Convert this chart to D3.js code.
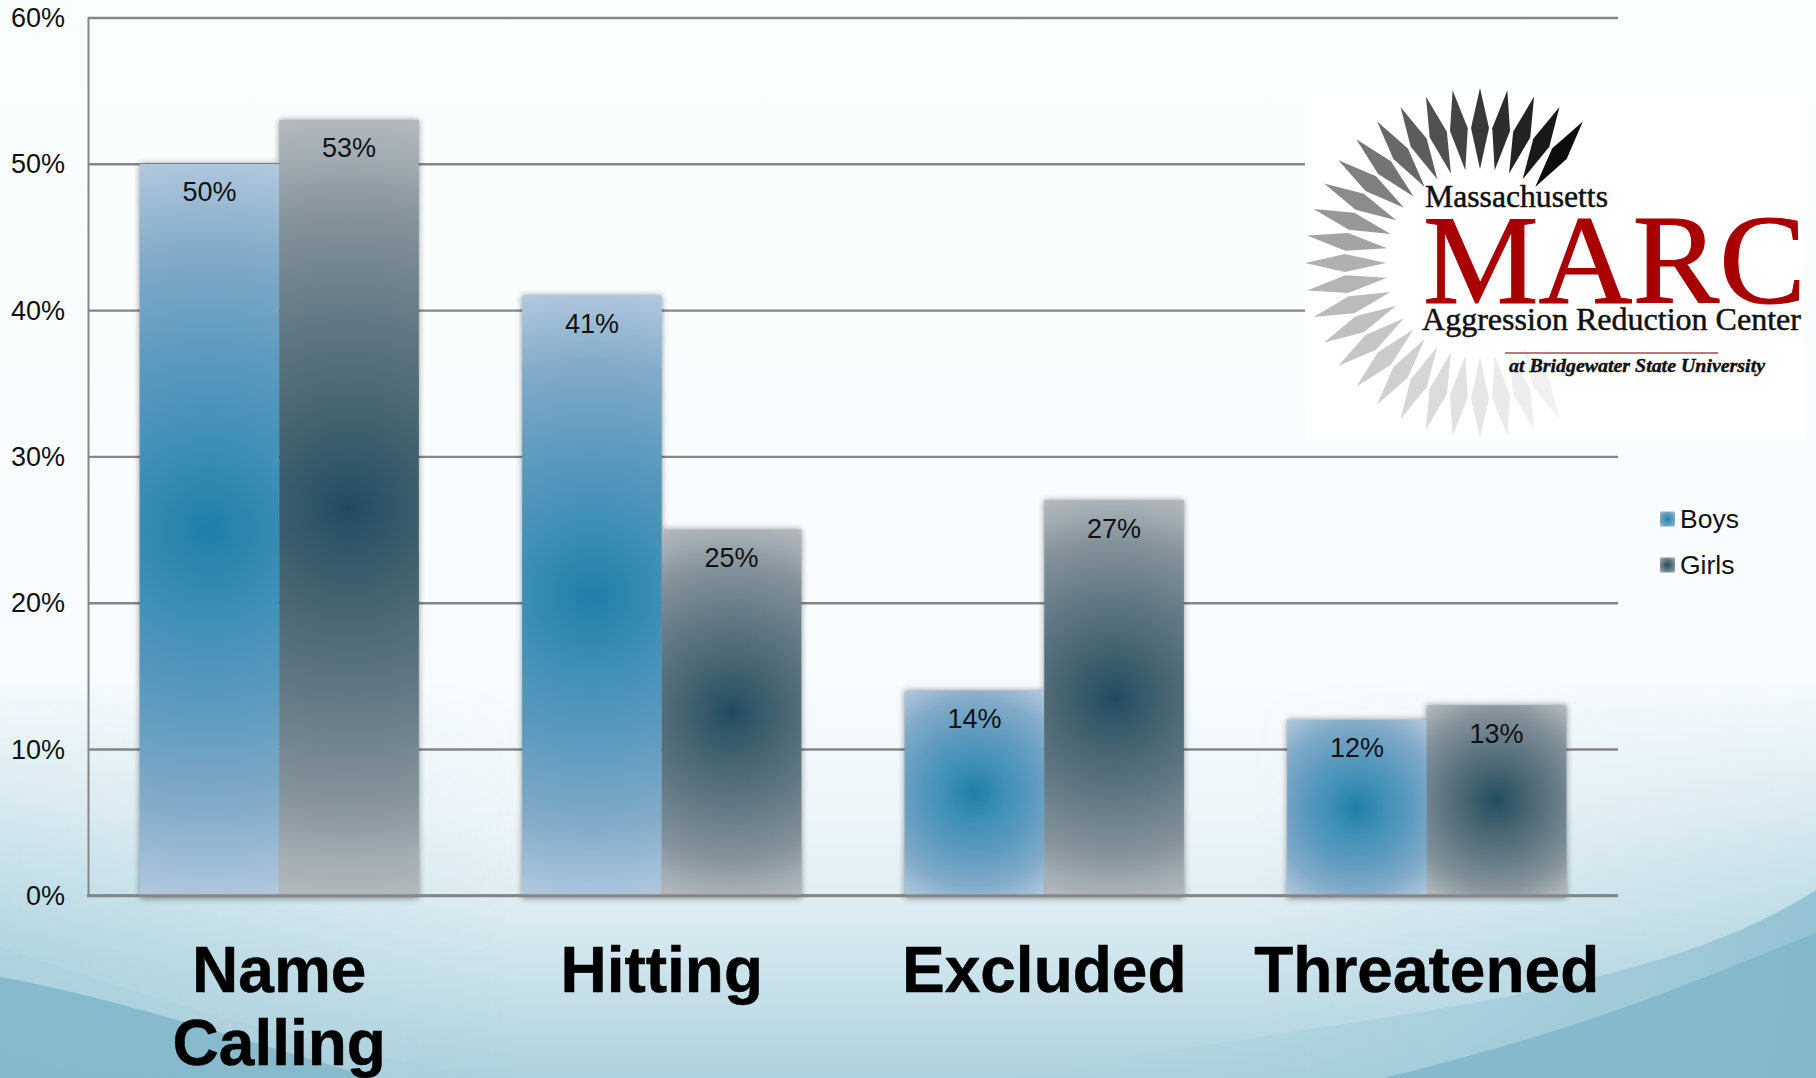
<!DOCTYPE html>
<html><head><meta charset="utf-8">
<script src="https://cdn.jsdelivr.net/npm/d3@7/dist/d3.min.js"></script>
<style>html,body{margin:0;padding:0;background:#fbfeff}svg{display:block}text{font-family:"Liberation Sans",Arial,sans-serif}</style>
</head><body><svg id="c" width="1816" height="1078"></svg>
<script>
const categories = ["Name Calling","Hitting","Excluded","Threatened"];
const seriesNames = ["Boys","Girls"];
const boys = [50,41,14,12];
const girls = [53,25,27,13];
const yTicks = [0,10,20,30,40,50,60];

const W=1816,H=1078,L=88,R=1618,T=17.5,B=895.3;
const svg=d3.select("#c"), defs=svg.append("defs");
const x=d3.scaleBand().domain(categories).range([L,R]).paddingInner(.27).paddingOuter(.135);
const xs=d3.scaleBand().domain(seriesNames).range([0,x.bandwidth()]);
const y=d3.scaleLinear().domain([0,60]).range([B,T]);

const stops={
 Boys:[[0,"#1f7fab"],[.08,"#2a84ad"],[.25,"#4090b7"],[.5,"#5f9bbf"],[.75,"#82abc9"],[.9,"#9fbdd6"],[1,"#b2c8de"]],
 Girls:[[0,"#1f4a5c"],[.06,"#2a5265"],[.25,"#46646f"],[.5,"#647a86"],[.75,"#85939b"],[.9,"#a3adb4"],[1,"#b5babc"]]
};
function grad(id,cx,cy,r,s){
 const g=defs.append("radialGradient").attr("id",id).attr("gradientUnits","userSpaceOnUse")
  .attr("cx",cx).attr("cy",cy).attr("r",r).attr("fx",cx).attr("fy",cy);
 stops[s].forEach(d=>g.append("stop").attr("offset",d[0]).attr("stop-color",d[1]));
 return `url(#${id})`;
}
function linear(id,x1,y1,x2,y2,list){
 const g=defs.append("linearGradient").attr("id",id).attr("gradientUnits","userSpaceOnUse")
  .attr("x1",x1).attr("y1",y1).attr("x2",x2).attr("y2",y2);
 list.forEach(d=>g.append("stop").attr("offset",d[0]).attr("stop-color",d[1]).attr("stop-opacity",d[2]===undefined?1:d[2]));
 return `url(#${id})`;
}
// background
svg.append("rect").attr("width",W).attr("height",H).attr("fill",linear("bg",0,0,0,H,
 [[0,"#fbfeff"],[.62,"#f8fcfe"],[.75,"#eef6fa"],[.84,"#deedf3"],[.92,"#c6e0e9"],[1,"#aed2de"]]));
const mk=defs.append("mask").attr("id","lowMask").attr("maskUnits","userSpaceOnUse").attr("x",0).attr("y",0).attr("width",W).attr("height",H);
mk.append("rect").attr("width",W).attr("height",H).attr("fill",linear("mg",0,680,0,960,[[0,"#000"],[1,"#fff"]]));
const sides=svg.append("g").attr("mask","url(#lowMask)");
sides.append("rect").attr("width",W).attr("height",H).attr("fill",linear("sl",0,0,520,0,[[0,"#9fcbd9",.65],[1,"#9fcbd9",0]]));
sides.append("rect").attr("width",W).attr("height",H).attr("fill",linear("sr",1250,0,1816,0,[[0,"#9fcbd9",0],[1,"#9fcbd9",.55]]));

svg.append("path").attr("d","M1816,890 C1741,937 1652,970 1473,1003 C1350,1025 1205,1043 1116,1060 L1000,1078 L1816,1078Z")
 .attr("fill",linear("sideR",1816,900,1050,1078,[[0,"#8fc0d1",.9],[1,"#a6cfdc",.1]]));
svg.append("path").attr("d","M1816,933 C1696,980 1607,1023 1384,1078 L1816,1078Z").attr("fill","#7db3c7").attr("opacity",.75);
svg.append("path").attr("d","M0,947 C70,970 187,1013 380,1057 L480,1078 L0,1078Z").attr("fill","#a9d0dd").attr("opacity",.4);
svg.append("path").attr("d","M0,977 C89,993 179,1020 357,1073 L372,1078 L0,1078Z").attr("fill","#82b7ca").attr("opacity",.9);

// shadow
const f=defs.append("filter").attr("id","sh").attr("x","-10%").attr("y","-10%").attr("width","120%").attr("height","120%");
f.append("feGaussianBlur").attr("stdDeviation",3);

// grid and y axis
const gy=svg.append("g").attr("transform",`translate(${L},0)`)
 .call(d3.axisLeft(y).tickValues(yTicks).tickSize(-(R-L)).tickPadding(24).tickFormat(d=>d+"%"));
gy.selectAll(".domain").attr("stroke","#868686").attr("stroke-width",2);
gy.selectAll("line").attr("stroke","#868686").attr("stroke-width",2.4);
gy.selectAll("text").attr("font-size",27).attr("fill","#111").attr("font-family","Liberation Sans").attr("dy","9").attr("x",-23);

// bars
const rows=categories.flatMap((c,i)=>[{c,s:"Boys",v:boys[i]},{c,s:"Girls",v:girls[i]}]);
svg.append("g").selectAll("rect").data(rows).join("rect")
 .attr("x",d=>x(d.c)+xs(d.s)).attr("width",xs.bandwidth())
 .attr("y",d=>y(d.v)).attr("height",d=>B-y(d.v)+3)
 .attr("filter","url(#sh)").attr("fill","#000").attr("opacity",.42);
svg.append("g").selectAll("rect").data(rows).join("rect")
 .attr("x",d=>x(d.c)+xs(d.s)).attr("width",xs.bandwidth())
 .attr("y",d=>y(d.v)).attr("height",d=>B-y(d.v))
 .attr("fill",(d,i)=>{
   const hh=(B-y(d.v))/2, hw=xs.bandwidth()/2;
   return grad("b"+i,x(d.c)+xs(d.s)+hw,y(d.v)+hh,Math.hypot(hh,hw),d.s);
 });
svg.append("line").attr("x1",L-1).attr("x2",R).attr("y1",B+.5).attr("y2",B+.5).attr("stroke","#868686").attr("stroke-width",3);
svg.append("g").selectAll("text").data(rows).join("text")
 .attr("x",d=>x(d.c)+xs(d.s)+xs.bandwidth()/2).attr("y",d=>y(d.v)+37.5)
 .attr("text-anchor","middle").attr("font-size",27).attr("fill","#111").text(d=>d.v+"%");

// x axis labels
const gx=svg.append("g").attr("transform",`translate(0,${B})`)
 .call(d3.axisBottom(x).tickSize(0).tickFormat(d=>d));
gx.select(".domain").remove();
gx.selectAll("text").attr("font-size",64).attr("font-weight","bold").attr("fill","#000").attr("stroke","#000").attr("stroke-width",.5).attr("font-family","Liberation Sans").attr("y",0).attr("dy",null)
 .each(function(d){
   const t=d3.select(this).text(null);
   const words=d==="Threatened"?[d]:d.split(" ");
   words.forEach((w,i)=>t.append("tspan").attr("x",0).attr("y",97+i*73).text(w));
 });

// legend
const leg=svg.append("g").selectAll("g").data(seriesNames).join("g");
const legY=d3.scalePoint().domain(seriesNames).range([519,565]);
leg.append("rect").attr("x",1660).attr("width",15).attr("height",15).attr("y",d=>legY(d)-7.5)
 .attr("fill",d=>grad("l"+d,1667.5,legY(d),10.6,d));
leg.append("text").attr("x",1680).attr("y",d=>legY(d)+8.5).attr("font-size",26.5).attr("fill","#111").text(d=>d);

// logo
const logo=svg.append("g");
logo.append("rect").attr("x",1305).attr("y",88).attr("width",498).attr("height",352).attr("fill","#fff");
const cx=1480,cy=263;
const spokes=d3.range(36,-216,-9);
const shade=d3.scaleLinear().domain([36,0,-90,-180,-216]).range(["#0d0d0d","#383838","#b0b0b0","#e6e6e6","#f5f5f5"]);
logo.append("g").selectAll("path").data(spokes).join("path")
 .attr("transform",d=>`translate(${cx},${cy}) rotate(${d})`)
 .attr("d","M0,-175 L9,-135 L0,-94 L-9,-135Z").attr("fill",d=>shade(d));
const serif='"Liberation Serif","Times New Roman",serif';
function lt(txt,xp,yp,size,len,col,extra){
 const e=logo.append("text").attr("x",xp).attr("y",yp).attr("font-size",size).attr("fill",col).style("font-family",serif)
  .attr("textLength",len).attr("lengthAdjust","spacingAndGlyphs").text(txt);
 if(extra) extra(e);
}
const heavy=e=>e.attr("stroke","#111").attr("stroke-width",.5);
lt("Massachusetts",1425,207,31,183,"#111",heavy);
lt("MARC",1423,303,126,383,"#a80000",e=>e.attr("stroke","#a80000").attr("stroke-width",1));
lt("Aggression Reduction Center",1422,330,31,379,"#111",heavy);
logo.append("line").attr("x1",1505).attr("x2",1718).attr("y1",353).attr("y2",353).attr("stroke","#b5454f").attr("stroke-width",1.3);
lt("at Bridgewater State University",1509,372,18,256,"#111",e=>e.attr("font-weight","bold").attr("font-style","italic").attr("stroke","#111").attr("stroke-width",.4));
</script></body></html>
